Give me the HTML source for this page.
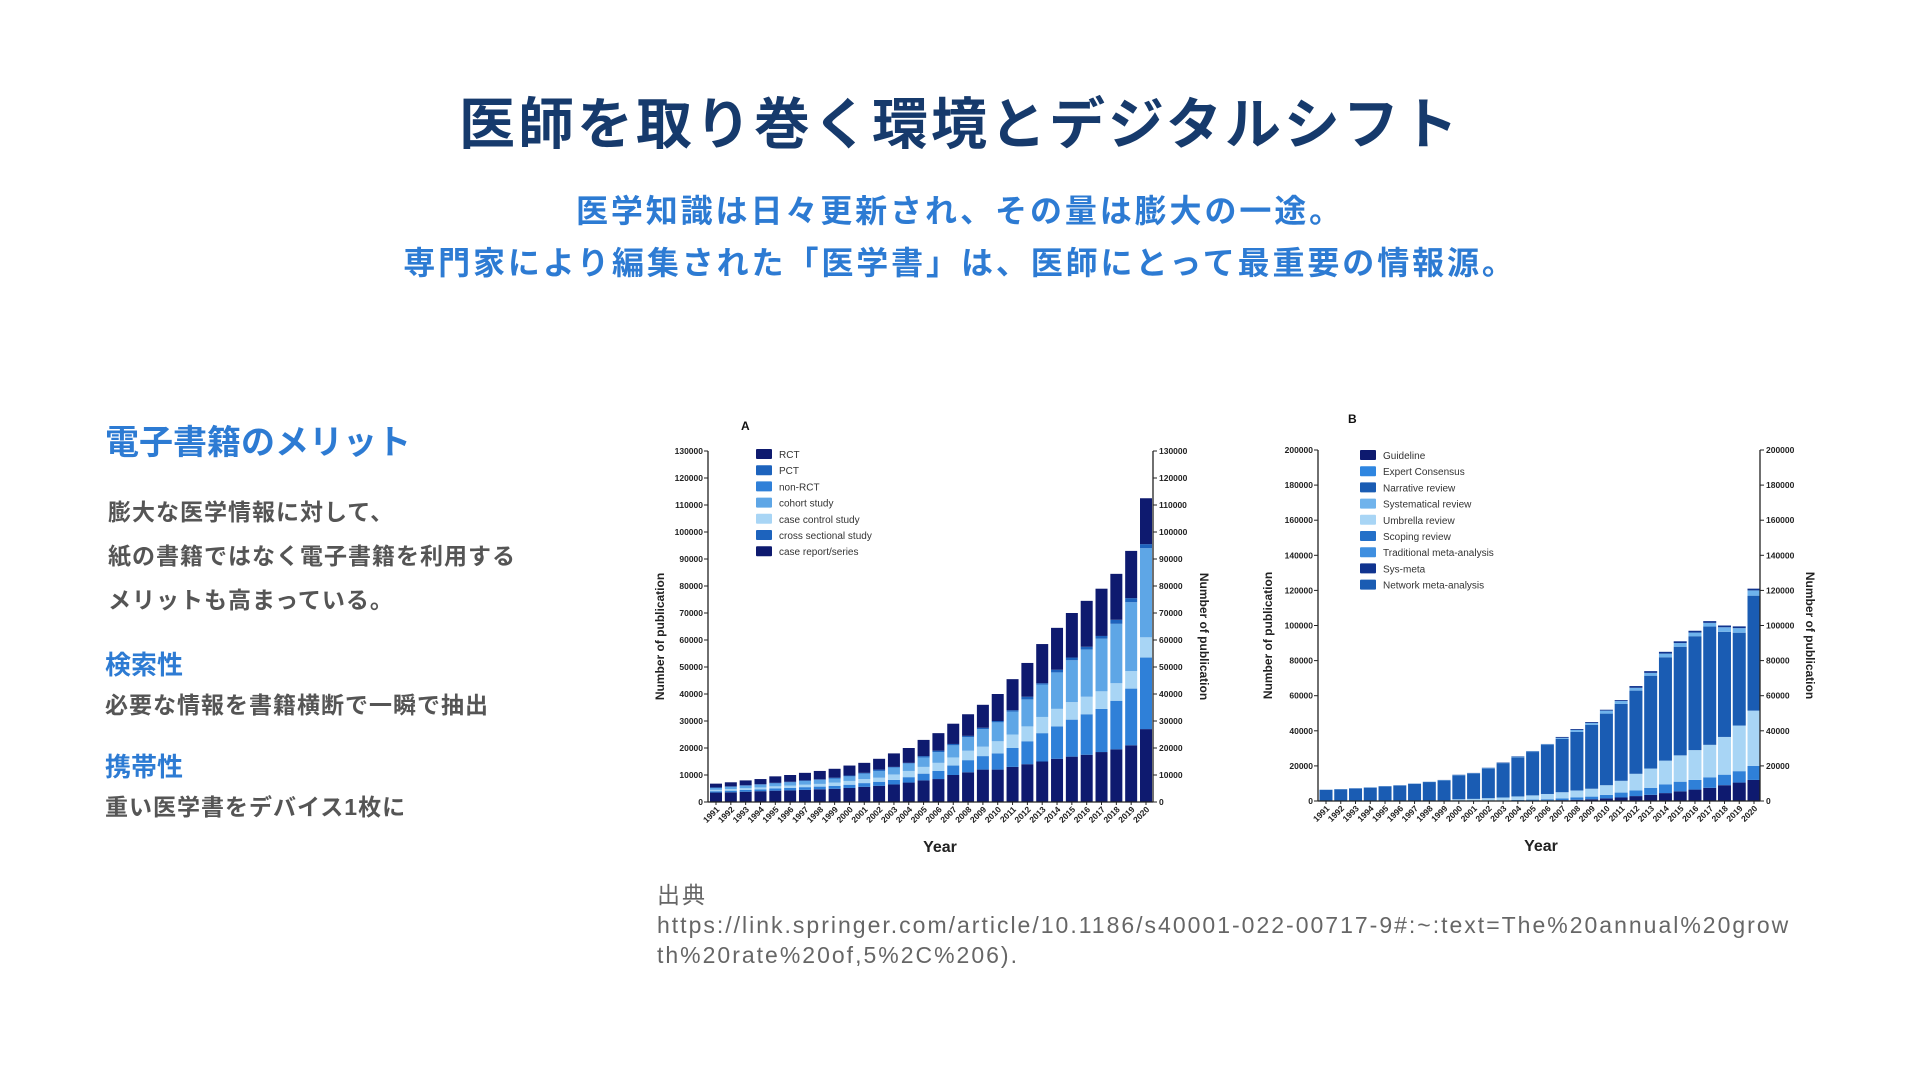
<!DOCTYPE html>
<html lang="ja"><head><meta charset="utf-8">
<style>
html,body{margin:0;padding:0;background:#fff;}
body{width:1920px;height:1080px;position:relative;overflow:hidden;font-family:"Liberation Sans","Noto Sans CJK JP",sans-serif;}
.abs{position:absolute;white-space:nowrap;}
#title{left:0;width:1920px;top:90px;text-align:center;font-size:56px;font-weight:bold;color:#163a6c;letter-spacing:3px;line-height:70px;}
.sub{left:0;width:1920px;text-align:center;font-size:32px;font-weight:bold;color:#2d7bd3;letter-spacing:2.9px;line-height:40px;}
.bl{font-weight:bold;color:#2d7bd3;}
.gr{font-weight:bold;color:#555;font-size:23px;letter-spacing:1px;}
#src{left:657px;top:880px;font-size:23px;color:#666;line-height:30px;letter-spacing:2px;}
svg text{font-family:"Liberation Sans",sans-serif;}
</style></head><body>
<div class="abs" id="title">医師を取り巻く環境とデジタルシフト</div>
<div class="abs sub" style="top:191px">医学知識は日々更新され、その量は膨大の一途。</div>
<div class="abs sub" style="top:243px">専門家により編集された「医学書」は、医師にとって最重要の情報源。</div>

<div class="abs bl" style="left:105px;top:423px;font-size:34px;line-height:40px">電子書籍のメリット</div>
<div class="abs gr" style="left:108px;top:490px;line-height:44px">膨大な医学情報に対して、<br>紙の書籍ではなく電子書籍を利用する<br>メリットも高まっている。</div>
<div class="abs bl" style="left:105px;top:650px;font-size:26px;line-height:30px">検索性</div>
<div class="abs gr" style="left:105px;top:690px;line-height:30px">必要な情報を書籍横断で一瞬で抽出</div>
<div class="abs bl" style="left:105px;top:752px;font-size:26px;line-height:30px">携帯性</div>
<div class="abs gr" style="left:105px;top:792px;line-height:30px">重い医学書をデバイス1枚に</div>

<svg id="chartA" class="abs" style="left:0;top:0" width="1920" height="1080"></svg>

<div class="abs" id="src">出典<br>https://link.springer.com/article/10.1186/s40001-022-00717-9#:~:text=The%20annual%20grow<br>th%20rate%20of,5%2C%206).</div>

<script>
// ---- Chart A data (stack upper bounds, bottom to top) ----
const yearsA = [1991,1992,1993,1994,1995,1996,1997,1998,1999,2000,2001,2002,2003,2004,2005,2006,2007,2008,2009,2010,2011,2012,2013,2014,2015,2016,2017,2018,2019,2020];
const aCaseReport = [3500,3600,3800,4000,4200,4300,4500,4700,4900,5200,5600,6000,6500,7200,8000,8500,10000,11000,12000,12000,13000,14000,15000,16000,16800,17500,18500,19500,21000,27000];
const aNonRCT = [4000,4200,4500,4700,5000,5200,5500,5700,6000,6400,7000,7500,8200,9200,10500,11500,13500,15500,17000,18000,20000,22500,25500,28000,30500,32500,34500,37500,42000,53500];
const aCaseControl = [4500,4800,5100,5400,5800,6100,6400,6700,7200,7800,8500,9000,10200,11500,13000,14500,16500,19000,20500,22500,25000,28000,31500,34500,37000,39000,41000,44000,48500,61000];
const aCohort = [5200,5600,6000,6400,6900,7300,7800,8200,8700,9500,10500,11500,12800,14300,16500,18500,21000,24000,27000,29500,33500,38000,43500,48000,52500,56500,60500,66000,74000,94000];
const aCross = [5400,5800,6200,6600,7100,7500,8000,8400,9000,9800,10800,12000,13000,14500,17000,19000,21500,24500,27500,30000,34000,39000,44000,49000,53500,57500,61500,67500,75500,95500];
const aRCT = [6800,7300,8000,8500,9500,10000,10800,11500,12300,13500,14500,16000,18000,20000,23000,25500,29000,32500,36000,40000,45500,51500,58500,64500,70000,74500,79000,84500,93000,112500];
const ticksA = [0,10000,20000,30000,40000,50000,60000,70000,80000,90000,100000,110000,120000,130000];
const legendA = ["RCT","PCT","non-RCT","cohort study","case control study","cross sectional study","case report/series"];
const legendColorsA = ["#0e1a6f","#1d63bd","#2f80d8","#5ea6e6","#a8d5f5","#1d63bd","#0e1a6f"];

// ---- Chart B data ----
const yearsB = yearsA;
const bGuideline = [0,0,0,0,0,0,0,0,0,0,0,0,0,100,200,300,500,700,1000,1500,2000,2800,3500,4500,5500,6500,7500,9000,10500,12000];
const bScoping = [0,0,0,0,0,0,0,0,100,150,200,300,400,600,800,1000,1500,2000,2500,3500,4800,6000,7500,9500,11000,12000,13500,15000,17000,20000];
const bUmbrella = [0,0,0,0,0,100,150,200,300,1000,1200,1600,2000,2600,3200,4000,5000,6000,7000,9000,11500,15500,18500,23000,26000,29000,32000,36500,43000,51500];
const bNarrative = [6300,6600,7100,7600,8300,8800,9800,10800,11800,14700,15700,18600,21600,24900,27900,31900,35400,39400,43400,49800,55300,62900,71400,81900,87900,93900,99400,96400,95900,117000];
const bSystematic = [6450,6750,7250,7750,8450,8950,9950,10950,11950,14900,15900,18900,21800,25300,28300,32300,36000,40500,44500,51500,57000,64500,73000,84000,90000,96000,101500,99000,98500,120000];
const bNetwork = [6500,6800,7300,7800,8500,9000,10000,11000,12000,15000,16000,19000,22000,25500,28500,32500,36500,41000,45000,52000,57500,65500,74000,85000,91000,97000,102500,100000,99500,121000];
const ticksB = [0,20000,40000,60000,80000,100000,120000,140000,160000,180000,200000];
const legendB = ["Guideline","Expert Consensus","Narrative review","Systematical review","Umbrella review","Scoping review","Traditional meta-analysis","Sys-meta","Network meta-analysis"];
const legendColorsB = ["#0e1a6f","#2f86e0","#1a5cb3","#6fb3ec","#a8d5f5","#2470c8","#3f8fe0","#10348f","#1a5cb3"];

const NS = "http://www.w3.org/2000/svg";
const svg = document.getElementById('chartA');
function mk(tag, attrs, parent){const e=document.createElementNS(NS,tag);for(const k in attrs)e.setAttribute(k,attrs[k]);(parent||svg).appendChild(e);return e;}

function drawChart(cfg){
  const g = mk('g',{});
  
  
  const yS = v => cfg.y0 - (v/cfg.max)*(cfg.y0-cfg.yTop);
  const n = cfg.years.length;
  const xS = i => cfg.xFirst + i*(cfg.xLast-cfg.xFirst)/(n-1);
  for(let i=0;i<n;i++){
    let prev=0;
    cfg.series.forEach((s,si)=>{
      const v=s.data[i]; if(v<=prev){return;}
      const r=mk('rect',{x:xS(i)-cfg.bw/2,y:yS(v),width:cfg.bw,height:yS(prev)-yS(v),fill:s.color},g);
      
      
      prev=v;
    });
    const t=mk('text',{x:0,y:0,'font-size':8.5,'font-weight':'bold','text-anchor':'end',fill:'#222',transform:`translate(${xS(i)+4},${cfg.y0+8}) rotate(-45)`},g);
    t.textContent=cfg.years[i];
    
    
  }
  mk('line',{x1:cfg.xL,y1:cfg.yTop,x2:cfg.xL,y2:cfg.y0,stroke:'#222','stroke-width':1.3},g);
  mk('line',{x1:cfg.xR,y1:cfg.yTop,x2:cfg.xR,y2:cfg.y0,stroke:'#222','stroke-width':1.3},g);
  mk('line',{x1:cfg.xL,y1:cfg.y0,x2:cfg.xR,y2:cfg.y0,stroke:'#222','stroke-width':1.3},g);
  for(let i=0;i<n;i++) mk('line',{x1:xS(i),y1:cfg.y0,x2:xS(i),y2:cfg.y0+3,stroke:'#222'},g);
  cfg.ticks.forEach(v=>{
    const y=yS(v);
    mk('line',{x1:cfg.xL-4,y1:y,x2:cfg.xL,y2:y,stroke:'#222'},g);
    mk('line',{x1:cfg.xR,y1:y,x2:cfg.xR+4,y2:y,stroke:'#222'},g);
    const t1=mk('text',{x:cfg.xL-5,y:y+3,'font-size':8.5,'font-weight':'bold','text-anchor':'end',fill:'#222'},g);
    t1.textContent=v;
    
    
    const t2=mk('text',{x:cfg.xR+6,y:y+3,'font-size':8.5,'font-weight':'bold',fill:'#222'},g);
    t2.textContent=v;
    
    
  });
  const yMid=(cfg.yTop+cfg.y0)/2;
  const lt=mk('text',{x:0,y:0,'font-size':12,'font-weight':'bold','text-anchor':'middle',fill:'#222',transform:`translate(${cfg.yTitleL},${yMid+10}) rotate(-90)`},g);
  lt.textContent='Number of publication';
  
  
  const rt=mk('text',{x:0,y:0,'font-size':12,'font-weight':'bold','text-anchor':'middle',fill:'#222',transform:`translate(${cfg.yTitleR},${yMid+10}) rotate(90)`},g);
  rt.textContent='Number of publication';
  
  
  const xt=mk('text',{x:cfg.xTitle,y:cfg.y0+50,'font-size':16,'font-weight':'bold','text-anchor':'middle',fill:'#222'},g);
  xt.textContent='Year';
  
  
  const pl=mk('text',{x:cfg.panelX,y:cfg.panelY,'font-size':12,'font-weight':'bold',fill:'#111'},g);
  pl.textContent=cfg.panel;
  
  
  cfg.legend.forEach((name,i)=>{
    const cy=cfg.legY+i*16.2;
    const r=mk('rect',{x:cfg.legX,y:cy-5,width:16,height:10,fill:cfg.legendColors[i],rx:1},g);
    
    
    const t=mk('text',{x:cfg.legX+23,y:cy+4,'font-size':10,fill:'#333'},g);
    t.textContent=name;
    
    
  });
}

drawChart({name:'chart-a-plot',years:yearsA,max:130000,ticks:ticksA,y0:802,yTop:451,xL:708,xR:1153,xFirst:716,xLast:1146,bw:12,
  series:[{key:'case-report',data:aCaseReport,color:'#0e1a6f'},{key:'non-rct',data:aNonRCT,color:'#2f80d8'},{key:'case-control',data:aCaseControl,color:'#a8d5f5'},{key:'cohort',data:aCohort,color:'#5ea6e6'},{key:'cross-sectional',data:aCross,color:'#1d63bd'},{key:'rct',data:aRCT,color:'#0e1a6f'}],
  yTitleL:664,yTitleR:1200,xTitle:940,panel:'A',panelX:741,panelY:430,legend:legendA,legendColors:legendColorsA,legX:756,legY:454});

drawChart({name:'chart-b-plot',years:yearsB,max:200000,ticks:ticksB,y0:801,yTop:450,xL:1318,xR:1760,xFirst:1326,xLast:1754,bw:13,
  series:[{key:'guideline',data:bGuideline,color:'#0e1a6f'},{key:'scoping',data:bScoping,color:'#2f80d8'},{key:'umbrella',data:bUmbrella,color:'#a8d5f5'},{key:'narrative',data:bNarrative,color:'#1a5cb3'},{key:'systematic',data:bSystematic,color:'#6fb3ec'},{key:'network',data:bNetwork,color:'#10348f'}],
  yTitleL:1272,yTitleR:1806,xTitle:1541,panel:'B',panelX:1348,panelY:423,legend:legendB,legendColors:legendColorsB,legX:1360,legY:455});
</script>
</body></html>
